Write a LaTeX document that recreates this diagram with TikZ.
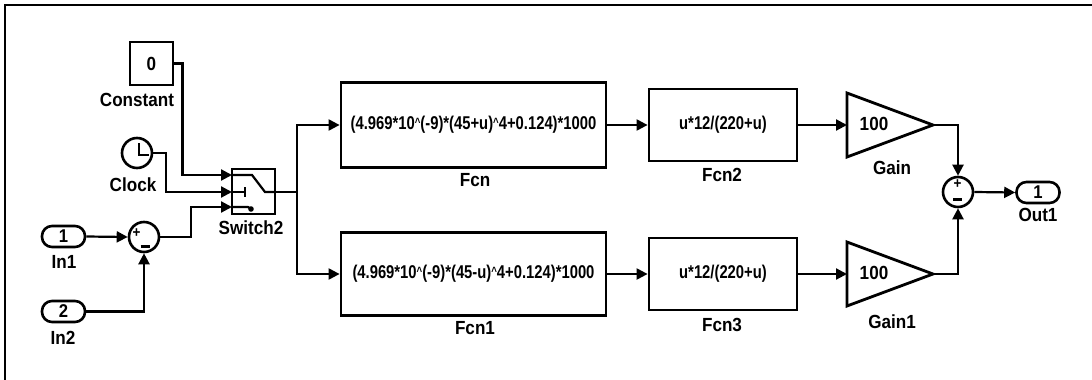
\documentclass[tikz,border=0pt]{standalone}
\usepackage{fontspec}
\setmainfont{Liberation Sans}[FakeStretch=0.9]
\newfontfamily\fnarrow{Liberation Sans}[FakeStretch=0.8]
\usetikzlibrary{arrows.meta}
\newcommand{\crt}{\raisebox{0.35ex}{\fontsize{12}{12}\selectfont\textasciicircum}}
\begin{document}
\begin{tikzpicture}[x=1pt,y=-1pt,
  blk/.style={draw, line width=2.8pt, inner sep=0pt},
  lbl/.style={font=\bfseries\fontsize{19}{19}\selectfont, inner sep=0pt},
  fml/.style={font=\fnarrow\bfseries\fontsize{18.5}{18.5}\selectfont},
  wire/.style={line width=2.2pt},
  arr/.style={wire, -{Triangle[length=11pt,width=11pt]}},
  port/.style={draw, line width=2.6pt, rounded corners=10pt, minimum width=43pt, minimum height=21pt, inner sep=0pt, font=\bfseries\fontsize{18.5}{18.5}\selectfont},
  sumb/.style={draw, circle, line width=2.6pt, minimum size=30pt, inner sep=0pt},
  sgn/.style={font=\bfseries\fontsize{15}{15}\selectfont, inner sep=0pt}
]
\useasboundingbox (0,0) rectangle (1092,380);
% frame
\draw[line width=2pt] (5,380) -- (5,5) -- (1092,5);

% blocks
\node[blk, minimum width=43pt, minimum height=43pt, font=\bfseries\fontsize{19}{19}\selectfont] (const) at (151.5,63.5) {0};
\node[lbl] (constL) at (137,100) {Constant};

\node[sumb, minimum size=30pt] (clock) at (137,153) {};
\draw[wire] (139,143) -- (139,155) -- (149,155);
\node[lbl] (clockL) at (133,185) {Clock};

\node[blk, minimum width=43pt, minimum height=45pt] (sw) at (253.5,191.5) {};
\draw[wire] (232,175) -- (252,175) -- (265,192) -- (275,192);
\draw[wire] (232,192) -- (245,192);
\draw[wire] (245,187) -- (245,197);
\draw[wire] (232,207) -- (248,207) to[bend left=30] (251,209);
\fill (251,209) circle (2.8pt);
\node[lbl] (swL) at (251,228) {Switch2};
\coordinate (sw1) at (232,175);
\coordinate (sw2) at (232,192);
\coordinate (sw3) at (232,207);
\coordinate (swo) at (275,192);
\coordinate (br) at (297,192);

\node[port] (in1) at (63.5,236.5) {1};
\node[lbl] (in1L) at (64,262) {In1};
\node[port] (in2) at (63.5,311.5) {2};
\node[lbl] (in2L) at (63,338) {In2};

\node[sumb] (sum1) at (144,237) {};
\node[sgn] (s1p) at (136.5,233) {+};
\draw[line width=3pt] (140.5,246) -- (149.5,246);

\node[blk, minimum width=265pt, minimum height=85pt, fml] (fcn) at (473.5,125) {(4.969*10\crt(-9)*(45+u)\crt4+0.124)*1000};
\node[lbl] (fcnL) at (475,180) {Fcn};
\node[blk, minimum width=265pt, minimum height=83pt, fml] (fcn1) at (473.5,274) {(4.969*10\crt(-9)*(45-u)\crt4+0.124)*1000};
\node[lbl] (fcn1L) at (475,328) {Fcn1};

\node[blk, minimum width=148pt, minimum height=72pt, fml] (fcn2) at (723,125) {u*12/(220+u)};
\node[lbl] (fcn2L) at (722,175) {Fcn2};
\node[blk, minimum width=148pt, minimum height=72pt, fml] (fcn3) at (723,274) {u*12/(220+u)};
\node[lbl] (fcn3L) at (722,325) {Fcn3};

% gains
\draw[line width=2.8pt, line join=miter] (847,93) -- (933,125) -- (847,157) -- cycle;
\coordinate (gainI) at (847,125);
\coordinate (gainO) at (933,125);
\node[lbl] (gainV) at (874,124) {100};
\node[lbl] (gainL) at (892,168) {Gain};
\draw[line width=2.8pt, line join=miter] (847,242) -- (933,274) -- (847,306) -- cycle;
\coordinate (gain1I) at (847,274);
\coordinate (gain1O) at (933,274);
\node[lbl] (gain1V) at (874,273) {100};
\node[lbl] (gain1L) at (892,322) {Gain1};

\node[sumb] (sum2) at (958,192) {};
\node[sgn] (s2p) at (957.5,184.5) {+};
\draw[line width=3pt] (953,199) -- (962,199);

\node[port] (out1) at (1038,192.5) {1};
\node[lbl] (out1L) at (1038,215) {Out1};

% connectors
\draw[arr] (const.east) -- ++(8,0) |- (sw1);
\draw[arr] (clock.east) -- ++(13,0) |- (sw2);
\draw[arr] (sum1.east) -- ++(31,0) |- (sw3);
\draw[arr] (in1.east) -- (sum1.west);
\draw[arr] (in2.east) -| (sum1.south);
\draw[wire] (swo) -- (br);
\draw[arr] (br) |- (fcn.west);
\draw[arr] (br) |- (fcn1.west);
\draw[arr] (fcn.east) -- (fcn2.west);
\draw[arr] (fcn1.east) -- (fcn3.west);
\draw[arr] (fcn2.east) -- (gainI);
\draw[arr] (fcn3.east) -- (gain1I);
\draw[arr] (gainO) -| (sum2.north);
\draw[arr] (gain1O) -| (sum2.south);
\draw[arr] (sum2.east) -- (out1.west);
\end{tikzpicture}
\end{document}
